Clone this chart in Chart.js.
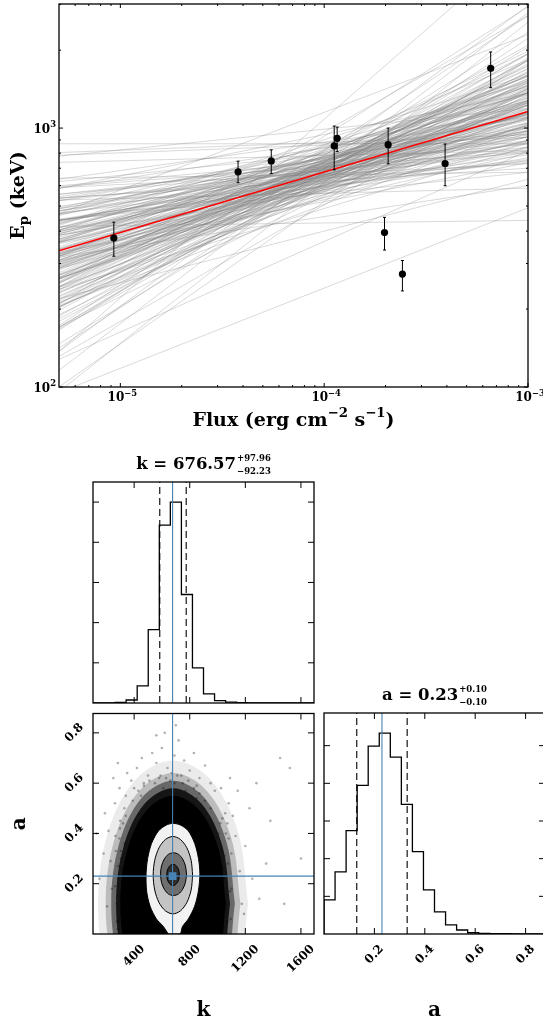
<!DOCTYPE html>
<html>
<head>
<meta charset="utf-8">
<script src="https://cdn.jsdelivr.net/npm/chart.js@4.4.1/dist/chart.umd.min.js"></script>
<style>
html,body{margin:0;padding:0;background:#fff;}
body{width:543px;height:1022px;overflow:hidden;position:relative;}
canvas{position:absolute;}
</style>
</head>
<body>
<canvas id="cTop" width="543" height="440" style="left:0;top:0"></canvas>
<canvas id="cK" width="320" height="270" style="left:0;top:440px"></canvas>
<canvas id="c2D" width="320" height="314" style="left:0;top:708px"></canvas>
<canvas id="cA" width="232" height="382" style="left:318px;top:640px"></canvas>
<script>
// ================= DATA =================
// Top panel: observed points
const fluxValues = [9.29e-6, 3.78e-5, 5.5e-5, 1.12e-4, 1.158e-4, 2.06e-4, 1.977e-4, 2.42e-4, 3.92e-4, 6.56e-4];
const epValues   = [376, 678, 747, 853, 913, 863, 395, 273, 730, 1702];
const epErrLow   = [320, 615, 668, 690, 811, 728, 338, 235, 599, 1432];
const epErrHigh  = [433, 745, 824, 1018, 1009, 1000, 452, 308, 868, 1967];
// best fit  Ep = k (F / 1e-4)^a
const bestK = 676.57, bestA = 0.234, pivotFlux = 1e-4;
// posterior samples (k, a) drawn as grey lines
const sampleK = [676,612,745,701,590,812,655,538,727,689,633,770,702,561,848,664,618,739,692,583,797,650,721,507,883,679,604,759,641,712,569,826,697,627,783,671,548,735,659,902,596,748,685,621,804,529,716,644,763,575,693,858,637,728,609,672,489,790,707,652,741,586,680,819,624,699,553,756,667,944,603,733,646,776,520,688,630,865,710,594,752,661,571,838,683,615,724,657,793,541,704,639,766,600,696,880,579,718,648,742,1083,241,430,870,615,965,455,780,520,990,860,400,700,1150,560,930,505,820,660,365,
655,702,618,741,589,684,727,640,776,662,599,718,687,631,759,554,806,670,713,647,581,731,694,626,788,658,706,612,749,566,681,738,634,699,772,597,665,720,651,829,607,690,744,578,674,711,623,766,645,734,593,697,842,659,716,636,781,602,668,753];
const sampleA = [0.23,0.31,0.18,0.12,0.27,0.29,0.36,0.21,0.09,0.41,0.15,0.25,0.33,0.08,0.20,0.04,0.48,0.37,0.19,0.34,0.14,0.26,0.22,0.30,0.11,0.28,0.17,0.44,0.06,0.32,0.13,0.38,0.16,0.24,0.02,0.52,0.39,0.27,0.20,0.25,0.10,0.31,0.07,0.35,0.23,0.18,0.43,0.29,0.15,0.22,0.35,0.33,0.12,0.19,0.40,0.26,0.24,0.08,0.30,0.17,0.50,0.14,0.21,0.27,0.05,0.37,0.32,0.11,0.28,0.16,0.23,0.34,0.45,0.20,0.15,0.13,0.29,0.24,0.06,0.38,0.22,0.18,0.26,0.12,0.31,0.09,0.40,0.25,0.30,0.28,0.14,0.33,0.17,0.21,0.47,0.03,0.19,0.26,0.10,0.36,0.69,0.31,0.01,0.00,0.62,0.45,0.12,0.58,0.55,0.08,0.03,0.20,0.60,0.30,0.02,0.50,0.45,0.52,0.01,0.35,
0.27,0.19,0.22,0.28,0.24,0.33,0.14,0.30,0.21,0.17,0.36,0.25,0.09,0.42,0.31,0.20,0.26,0.38,0.12,0.23,0.29,0.35,0.18,0.15,0.39,0.32,0.27,0.11,0.20,0.34,0.43,0.07,0.26,0.21,0.16,0.19,0.30,0.37,0.13,0.24,0.28,0.25,0.33,0.16,0.46,0.22,0.34,0.12,0.21,0.29,0.10,0.40,0.18,0.24,0.31,0.19,0.27,0.32,0.14,0.23];
const fluxRange = [5e-6, 1e-3];
const epRange = [100, 3015];
const xTickMajor = [1e-5, 1e-4, 1e-3];
const xTickLabels = [['10','\u22125'],['10','\u22124'],['10','\u22123']];
const xTickMinor = [6e-6,7e-6,8e-6,9e-6,2e-5,3e-5,4e-5,5e-5,6e-5,7e-5,8e-5,9e-5,2e-4,3e-4,4e-4,5e-4,6e-4,7e-4,8e-4,9e-4];
const yTickMajor = [100, 1000];
const yTickLabels = [['10','2'],['10','3']];
const yTickMinor = [200,300,400,500,600,700,800,900,2000,3000];

// Corner: marginal histograms
const kBinEdges = [104,183.5,263,342.5,422,501.5,581,660.5,740,819.5,899,978.5,1058,1137.5,1217,1296.5,1376,1455.5,1535,1614.5,1694];
const kCounts   = [0,0,3,15,85,365,885,1000,540,175,45,12,4,2,1,0,0,0,0,0];
const aBinEdges = [0,0.0439,0.0877,0.1316,0.1754,0.2193,0.2631,0.307,0.3508,0.3947,0.4385,0.4824,0.5262,0.5701,0.6139,0.6578,0.7016,0.7455,0.7893,0.8332,0.877];
const aCounts   = [272,494,824,1184,1496,1600,1408,1032,656,352,176,72,32,10,5,3,2,1,0,0];
const kQuantiles = [584.34, 676.57, 774.53];
const aQuantiles = [0.13, 0.23, 0.33];
const kAxisTicks = [400, 800, 1200, 1600];
const kAxisLabels = ['400','800','1200','1600'];
const aAxisTicks = [0.2, 0.4, 0.6, 0.8];
const aAxisLabels = ['0.2','0.4','0.6','0.8'];
const kHistTicks = [200,400,600,800,1000];
const aHistTicks = [300,600,900,1200,1500];
const kTitle = ['k = 676.57', '+97.96', '\u221292.23'];
const aTitle = ['a = 0.23', '+0.10', '\u22120.10'];

// Corner: 2D panel shapes (k, a vertices)
const haloK = [
 [1220,1148,950,680,410,212,140,212,410,680,950,1148,1220],
 [1165,1100,922,680,438,260,195,260,438,680,922,1100,1165],
 [1125,1065,902,680,458,295,235,295,458,680,902,1065,1125],
 [1090,1035,885,680,475,325,270,325,475,680,885,1035,1090],
 [1060,1009,870,680,490,351,300,351,490,680,870,1009,1060]
];
const haloA = [
 [0.12,0.405,0.614,0.69,0.614,0.405,0.12,-0.165,-0.374,-0.45,-0.374,-0.165,0.12],
 [0.12,0.38,0.57,0.64,0.57,0.38,0.12,-0.14,-0.33,-0.40,-0.33,-0.14,0.12],
 [0.12,0.365,0.544,0.61,0.544,0.365,0.12,-0.125,-0.304,-0.37,-0.304,-0.125,0.12],
 [0.12,0.35,0.518,0.58,0.518,0.35,0.12,-0.11,-0.278,-0.34,-0.278,-0.11,0.12],
 [0.12,0.335,0.492,0.55,0.492,0.335,0.12,-0.095,-0.252,-0.31,-0.252,-0.095,0.12]
];
const speckK = [180,215,240,262,285,300,318,330,205,250,275,295,340,230,310,350,190,265,320,345,150,283,305,380,420,455,500,530,560,600,640,690,720,760,800,830,870,910,950,400,470,580,660,740,850,980,620,700,560,1020,1050,1080,1100,1130,1160,1190,1040,1070,1110,1145,1200,1250,1230,1025,1090,1300,1175,1060,1010,1450,1520,1380,1600,1480,1350,130,1280,
290,300,285,305,295,320,330,275,310,268,340,315,298,282,262,
390,430,470,510,550,590,630,670,710,750,790,830,870,910,950,450,610,690,770,850,
1005,1030,1045,1060,1020,1075,1090,1035,1015,1080,1055,1095,1070,1040,1100];
const speckA = [0.32,0.41,0.18,0.52,0.27,0.45,0.09,0.36,0.11,0.62,0.05,0.58,0.55,0.29,0.21,0.64,0.48,0.39,0.14,0.03,0.22,0.68,0.33,0.61,0.66,0.70,0.63,0.72,0.68,0.74,0.66,0.71,0.77,0.69,0.65,0.72,0.62,0.67,0.60,0.58,0.60,0.62,0.61,0.63,0.59,0.57,0.80,0.83,0.79,0.44,0.31,0.52,0.18,0.39,0.25,0.08,0.12,0.05,0.47,0.57,0.35,0.22,0.50,0.58,0.62,0.14,0.12,0.40,0.03,0.70,0.66,0.45,0.30,0.12,0.28,0.40,0.60,
0.05,0.15,0.22,0.30,0.38,0.44,0.50,0.12,0.08,0.33,0.47,0.26,0.42,0.02,0.19,
0.53,0.57,0.59,0.61,0.60,0.63,0.62,0.64,0.63,0.60,0.61,0.58,0.56,0.53,0.50,0.55,0.58,0.60,0.57,0.54,
0.40,0.33,0.22,0.10,0.02,0.28,0.17,0.46,0.15,0.38,0.48,0.06,0.44,0.26,0.32];
const contourK = [
 [645,610,560,515,490,486,497,525,575,630,681,735,790,836,863,873,862,835,790,748,729,645],
 [821,810,779,733,679,625,579,548,537,548,579,625,679,733,779,810,821],
 [777,769,749,719,683,647,617,597,590,597,617,647,683,719,749,769,777],
 [725,722,712,697,680,663,648,638,635,638,648,663,680,697,712,722,725]
];
const contourA = [
 [0.0,0.03,0.06,0.11,0.17,0.24,0.30,0.36,0.41,0.433,0.44,0.433,0.41,0.36,0.30,0.24,0.17,0.11,0.06,0.03,0.0,0.0],
 [0.234,0.293,0.343,0.376,0.388,0.376,0.343,0.293,0.234,0.175,0.125,0.092,0.08,0.092,0.125,0.175,0.234],
 [0.238,0.271,0.298,0.317,0.323,0.317,0.298,0.271,0.238,0.205,0.178,0.159,0.153,0.159,0.178,0.205,0.238],
 [0.235,0.251,0.265,0.274,0.277,0.274,0.265,0.251,0.235,0.219,0.205,0.196,0.193,0.196,0.205,0.219,0.235]
];

// ================= STYLE / HELPERS =================
const FAMILY = '"DejaVu Serif", "Liberation Serif", serif';
const BLUE = '#4682b4';
function fnt(size){ return 'bold ' + size + 'px ' + FAMILY; }
function richWidth(ctx, segs, size){
  let w = 0;
  for (const s of segs){ ctx.font = fnt(size*(s.scale||1)); w += ctx.measureText(s.text).width; }
  return w;
}
function drawRich(ctx, segs, x, y, size, align){
  const w = richWidth(ctx, segs, size);
  let cx = align === 'center' ? x - w/2 : (align === 'right' ? x - w : x);
  ctx.textAlign = 'left'; ctx.textBaseline = 'alphabetic'; ctx.fillStyle = '#000';
  for (const s of segs){
    ctx.font = fnt(size*(s.scale||1));
    ctx.fillText(s.text, cx, y - (s.rise||0)*size);
    cx += ctx.measureText(s.text).width;
  }
}
function drawFrameTicks(ctx, ca, sx, sy, o){
  ctx.save();
  ctx.strokeStyle = '#000';
  ctx.lineWidth = 1;
  ctx.beginPath();
  const vt = (vals, len) => { for (const v of vals){ const p = sx.getPixelForValue(v);
    ctx.moveTo(p, ca.bottom); ctx.lineTo(p, ca.bottom - len);
    ctx.moveTo(p, ca.top); ctx.lineTo(p, ca.top + len); } };
  const ht = (vals, len) => { for (const v of vals){ const p = sy.getPixelForValue(v);
    ctx.moveTo(ca.left, p); ctx.lineTo(ca.left + len, p);
    ctx.moveTo(ca.right, p); ctx.lineTo(ca.right - len, p); } };
  vt(o.xMajor || [], o.major); vt(o.xMinor || [], o.minor);
  ht(o.yMajor || [], o.major); ht(o.yMinor || [], o.minor);
  ctx.stroke();
  ctx.lineWidth = 1.3;
  ctx.strokeRect(ca.left, ca.top, ca.right - ca.left, ca.bottom - ca.top);
  ctx.restore();
}
function rotLabelX(ctx, text, x, yTop, size){
  ctx.font = fnt(size);
  const w = ctx.measureText(text).width, h = size*0.75;
  const d = (w + h)*0.7071/2;
  ctx.save(); ctx.translate(x, yTop + d); ctx.rotate(-Math.PI/4);
  ctx.textAlign = 'center'; ctx.textBaseline = 'middle'; ctx.fillStyle = '#000';
  ctx.fillText(text, 0, 0); ctx.restore();
}
function rotLabelY(ctx, text, xRight, y, size){
  ctx.font = fnt(size);
  const w = ctx.measureText(text).width, h = size*0.75;
  const d = (w + h)*0.7071/2;
  ctx.save(); ctx.translate(xRight - d, y); ctx.rotate(-Math.PI/4);
  ctx.textAlign = 'center'; ctx.textBaseline = 'middle'; ctx.fillStyle = '#000';
  ctx.fillText(text, 0, 0); ctx.restore();
}
function drawCornerTitle(ctx, parts, cx, baseline, size, ssize){
  ctx.font = fnt(size); const wm = ctx.measureText(parts[0]).width;
  ctx.font = fnt(ssize); const ws = Math.max(ctx.measureText(parts[1]).width, ctx.measureText(parts[2]).width);
  const x0 = cx - (wm + 1 + ws)/2;
  ctx.fillStyle = '#000'; ctx.textAlign = 'left'; ctx.textBaseline = 'alphabetic';
  ctx.font = fnt(size); ctx.fillText(parts[0], x0, baseline);
  ctx.font = fnt(ssize);
  ctx.fillText(parts[1], x0 + wm + 1, baseline - 8.5);
  ctx.fillText(parts[2], x0 + wm + 1, baseline + 4.5);
}
function withOrder(ds){ ds.forEach((d,i) => d.order = ds.length - i); return ds; }
const baseOpts = (pad, xs, ys) => ({
  responsive: false, animation: false, devicePixelRatio: 1,
  layout: { padding: pad },
  plugins: { legend: { display: false }, tooltip: { enabled: false } },
  elements: { point: { radius: 0 } },
  scales: { x: xs, y: ys }
});

// ================= TOP PANEL =================
const modelEp = (k, a, f) => k * Math.pow(f / pivotFlux, a);
const topDatasets = [];
const nS = Math.min(sampleK.length, sampleA.length);
for (let i = 0; i < nS; i++){
  topDatasets.push({ type:'line', data: fluxRange.map(f => ({x:f, y:modelEp(sampleK[i], sampleA[i], f)})),
    borderColor:'rgba(128,128,128,0.3)', borderWidth:1, pointRadius:0, fill:false });
}
topDatasets.push({ type:'line', data: fluxRange.map(f => ({x:f, y:modelEp(bestK, bestA, f)})),
  borderColor:'#ff0000', borderWidth:1.5, pointRadius:0, fill:false });
topDatasets.push({ type:'line', showLine:false, data: fluxValues.map((f,i) => ({x:f, y:epValues[i]})),
  pointRadius:3.6, pointBackgroundColor:'#000', pointBorderWidth:0 });

const topDeco = {
  id:'topDeco',
  afterDatasetsDraw(chart){
    const {ctx, scales:{x, y}} = chart;
    ctx.save(); ctx.strokeStyle = '#000'; ctx.lineWidth = 1; ctx.beginPath();
    for (let i = 0; i < fluxValues.length; i++){
      const px = x.getPixelForValue(fluxValues[i]);
      const y1 = y.getPixelForValue(epErrLow[i]), y2 = y.getPixelForValue(epErrHigh[i]);
      ctx.moveTo(px, y1); ctx.lineTo(px, y2);
      ctx.moveTo(px-1.5, y1); ctx.lineTo(px+1.5, y1);
      ctx.moveTo(px-1.5, y2); ctx.lineTo(px+1.5, y2);
    }
    ctx.stroke(); ctx.restore();
  },
  afterDraw(chart){
    const {ctx, chartArea:ca, scales:{x, y}} = chart;
    drawFrameTicks(ctx, ca, x, y, {xMajor:xTickMajor, xMinor:xTickMinor, yMajor:yTickMajor, yMinor:yTickMinor, major:4, minor:2});
    xTickMajor.forEach((v,i) => drawRich(ctx, [{text:xTickLabels[i][0]},{text:xTickLabels[i][1], scale:0.7, rise:0.45}], x.getPixelForValue(v)+2, ca.bottom + 14, 12, 'center'));
    yTickMajor.forEach((v,i) => drawRich(ctx, [{text:yTickLabels[i][0]},{text:yTickLabels[i][1], scale:0.7, rise:0.45}], ca.left - 3, y.getPixelForValue(v) + 4.5, 12, 'right'));
    drawRich(ctx, [{text:'Flux (erg cm'},{text:'\u22122', scale:0.7, rise:0.45},{text:' s'},{text:'\u22121', scale:0.7, rise:0.45},{text:')'}], (ca.left+ca.right)/2, 426, 19, 'center');
    ctx.save(); ctx.translate(17, (ca.top+ca.bottom)/2); ctx.rotate(-Math.PI/2);
    drawRich(ctx, [{text:'E'},{text:'p', scale:0.7, rise:-0.2},{text:' (keV)'}], 0, 7, 19, 'center');
    ctx.restore();
  }
};
new Chart(document.getElementById('cTop'), {
  type:'line',
  data:{ datasets: withOrder(topDatasets) },
  options: baseOpts({left:59, top:1, right:15, bottom:53},
    { type:'logarithmic', min:fluxRange[0], max:fluxRange[1], display:false },
    { type:'logarithmic', min:epRange[0], max:epRange[1], display:false }),
  plugins:[topDeco]
});

// ================= CORNER: helpers =================
function stepData(edges, counts){
  const d = [{x:edges[0], y:0}];
  counts.forEach((c,i) => d.push({x:edges[i], y:c}));
  d.push({x:edges[edges.length-1], y:counts[counts.length-1]});
  d.push({x:edges[edges.length-1], y:0});
  return d;
}
function vline(v, top, color, dash){
  return { type:'line', data:[{x:v, y:0},{x:v, y:top}], borderColor:color, borderWidth:1.1, borderDash:dash||[], pointRadius:0, fill:false };
}

// ---------- k histogram ----------
const kMax = 1.1*Math.max(...kCounts);
const kHistDs = [
  { type:'line', data:stepData(kBinEdges, kCounts), stepped:'before', borderColor:'#000', borderWidth:1.3, pointRadius:0, fill:false },
  vline(kQuantiles[0], kMax, '#000', [7,4]),
  vline(kQuantiles[2], kMax, '#000', [7,4]),
  vline(kQuantiles[1], kMax, BLUE)
];
new Chart(document.getElementById('cK'), {
  type:'line',
  data:{ datasets: withOrder(kHistDs) },
  options: baseOpts({left:93, top:42, right:6, bottom:7},
    { type:'linear', min:kBinEdges[0], max:kBinEdges[kBinEdges.length-1], display:false },
    { type:'linear', min:0, max:kMax, display:false }),
  plugins:[{ id:'kDeco', afterDraw(chart){
    const {ctx, chartArea:ca, scales:{x, y}} = chart;
    drawFrameTicks(ctx, ca, x, y, {xMajor:kAxisTicks, yMajor:kHistTicks, major:6});
    drawCornerTitle(ctx, kTitle, (ca.left+ca.right)/2, ca.top - 13, 16.5, 8.5);
  }}]
});

// ---------- a histogram ----------
const aMax = 1.1*Math.max(...aCounts);
const aHistDs = [
  { type:'line', data:stepData(aBinEdges, aCounts), stepped:'before', borderColor:'#000', borderWidth:1.3, pointRadius:0, fill:false },
  vline(aQuantiles[0], aMax, '#000', [7,4]),
  vline(aQuantiles[2], aMax, '#000', [7,4]),
  vline(aQuantiles[1], aMax, BLUE)
];
new Chart(document.getElementById('cA'), {
  type:'line',
  data:{ datasets: withOrder(aHistDs) },
  options: baseOpts({left:6, top:73, right:5, bottom:88},
    { type:'linear', min:aBinEdges[0], max:aBinEdges[aBinEdges.length-1], display:false },
    { type:'linear', min:0, max:aMax, display:false }),
  plugins:[{ id:'aDeco', afterDraw(chart){
    const {ctx, chartArea:ca, scales:{x, y}} = chart;
    drawFrameTicks(ctx, ca, x, y, {xMajor:aAxisTicks, yMajor:aHistTicks, major:6});
    drawCornerTitle(ctx, aTitle, (ca.left+ca.right)/2, ca.top - 13, 16.5, 8.5);
    aAxisTicks.forEach((v,i) => rotLabelX(ctx, aAxisLabels[i], x.getPixelForValue(v), ca.bottom + 10, 12));
    drawRich(ctx, [{text:'a'}], (ca.left+ca.right)/2, ca.bottom + 82, 20, 'center');
  }}]
});

// ---------- 2D panel ----------
const haloAlpha = [0.08, 0.2, 0.45, 0.8, 1.0];
const contourFill = ['#f2f2f2', '#c4c4c4', '#6e6e6e', '#2e2e2e'];
const ds2 = [];
haloK.forEach((ks, j) => ds2.push({ type:'line', data: ks.map((k,i) => ({x:k, y:haloA[j][i]})),
  borderWidth:0, borderColor:'rgba(0,0,0,0)', backgroundColor:'rgba(0,0,0,'+haloAlpha[j]+')', fill:'shape', tension:0.35, pointRadius:0 }));
ds2.push({ type:'line', showLine:false, data: speckK.map((k,i) => ({x:k, y:speckA[i]})),
  pointRadius:1.3, pointBackgroundColor:'rgba(0,0,0,0.3)', pointBorderWidth:0 });
contourK.forEach((ks, j) => ds2.push({ type:'line', data: ks.map((k,i) => ({x:k, y:contourA[j][i]})),
  borderWidth:1, borderColor:'#000', backgroundColor:contourFill[j], fill:'shape', tension:0.3, pointRadius:0 }));
ds2.push({ type:'line', data:[{x:kQuantiles[1], y:aBinEdges[0]},{x:kQuantiles[1], y:aBinEdges[aBinEdges.length-1]}], borderColor:BLUE, borderWidth:1.1, pointRadius:0, fill:false });
ds2.push({ type:'line', data:[{x:kBinEdges[0], y:aQuantiles[1]},{x:kBinEdges[kBinEdges.length-1], y:aQuantiles[1]}], borderColor:BLUE, borderWidth:1.1, pointRadius:0, fill:false });
ds2.push({ type:'line', showLine:false, data:[{x:kQuantiles[1], y:aQuantiles[1]}], pointStyle:'rect', pointRadius:5.5, pointBackgroundColor:BLUE, pointBorderWidth:0 });

new Chart(document.getElementById('c2D'), {
  type:'line',
  data:{ datasets: withOrder(ds2) },
  options: baseOpts({left:93, top:5, right:6, bottom:88},
    { type:'linear', min:kBinEdges[0], max:kBinEdges[kBinEdges.length-1], display:false },
    { type:'linear', min:aBinEdges[0], max:aBinEdges[aBinEdges.length-1], display:false }),
  plugins:[{ id:'dDeco', afterDraw(chart){
    const {ctx, chartArea:ca, scales:{x, y}} = chart;
    drawFrameTicks(ctx, ca, x, y, {xMajor:kAxisTicks, yMajor:aAxisTicks, major:6});
    kAxisTicks.forEach((v,i) => rotLabelX(ctx, kAxisLabels[i], x.getPixelForValue(v), ca.bottom + 10, 12));
    aAxisTicks.forEach((v,i) => rotLabelY(ctx, aAxisLabels[i], ca.left - 8, y.getPixelForValue(v), 12));
    drawRich(ctx, [{text:'k'}], (ca.left+ca.right)/2, ca.bottom + 82, 20, 'center');
    ctx.save(); ctx.translate(20, (ca.top+ca.bottom)/2); ctx.rotate(-Math.PI/2);
    drawRich(ctx, [{text:'a'}], 0, 5, 20, 'center'); ctx.restore();
  }}]
});
</script>
</body>
</html>
